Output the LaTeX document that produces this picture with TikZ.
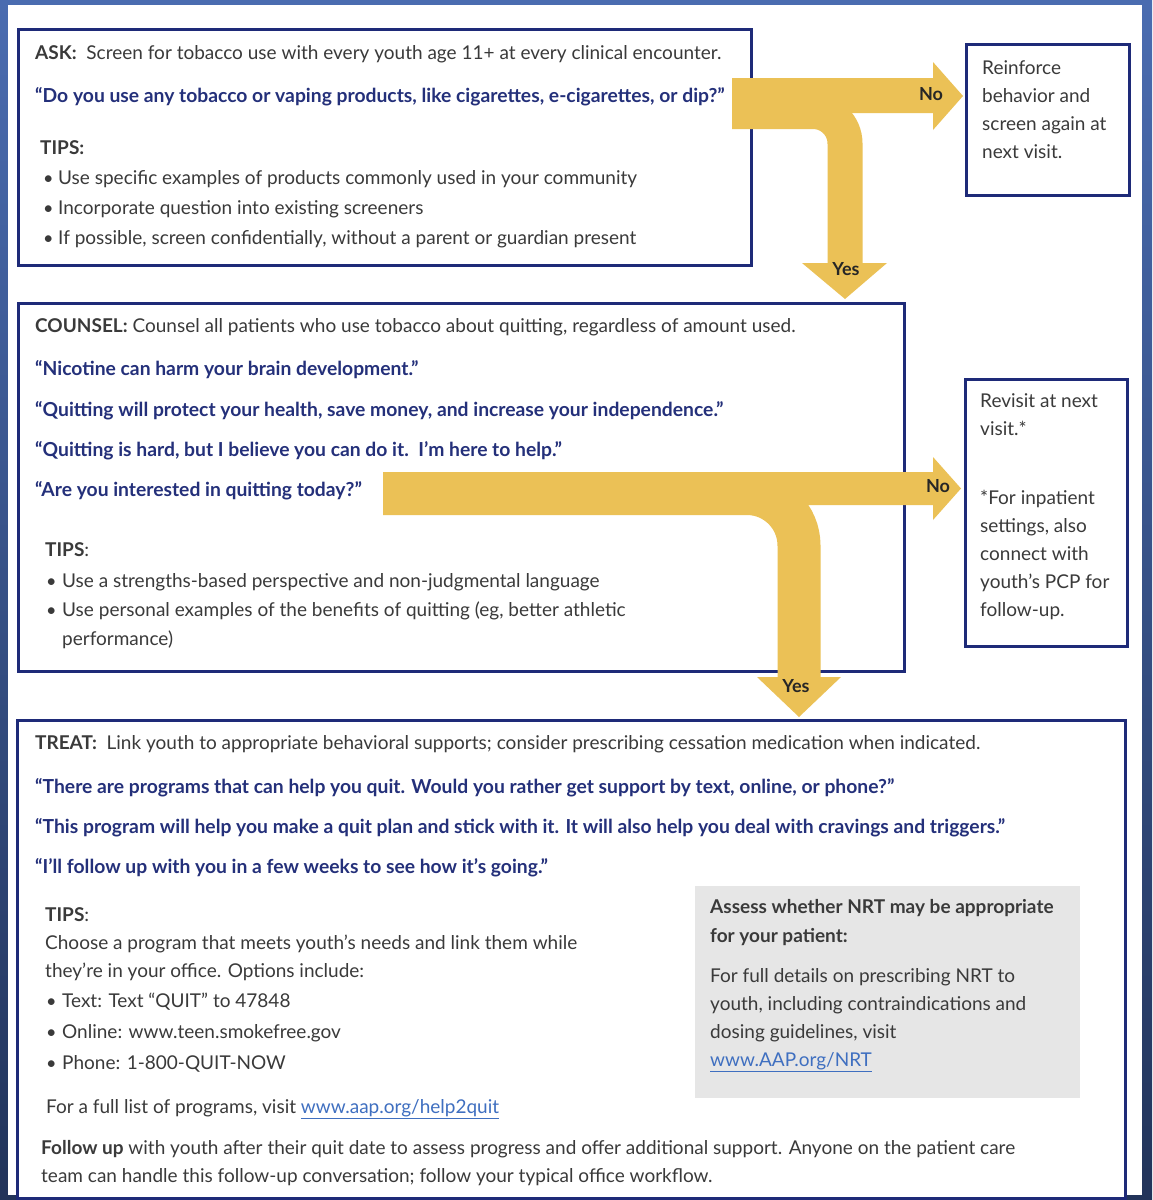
\documentclass[tikz,border=0pt]{standalone}
\usepackage{fontspec}
\setmainfont{Lato}
\definecolor{navy}{HTML}{1E2A78}
\definecolor{qblue}{HTML}{24307A}
\definecolor{txt}{HTML}{3A3A3A}
\definecolor{gold}{HTML}{EBC156}
\definecolor{linkc}{HTML}{3F6FC0}
\definecolor{graybg}{HTML}{E6E6E6}
\definecolor{frametop}{HTML}{4A6CB0}
\definecolor{framebot}{HTML}{22345A}
\tikzset{
  box/.style={draw=navy, line width=3pt, fill=white, anchor=north west, inner sep=0pt},
  t/.style={anchor=base west, inner sep=0pt, text=txt, font=\fontsize{19}{22}\selectfont},
  q/.style={anchor=base west, inner sep=0pt, text=qblue, font=\fontsize{19.3}{22}\selectfont\bfseries},
  lbl/.style={anchor=center, inner sep=0pt, text=black!85, font=\fontsize{18}{20}\selectfont\bfseries},
  bul/.style={anchor=base west, inner sep=0pt, text=txt, font=\fontsize{18}{20}\selectfont},
  goldband/.style={draw=gold, line cap=butt},
}
\newcommand{\lnk}[1]{\textcolor{linkc}{\underline{#1}}}
\begin{document}
\begin{tikzpicture}[x=1pt,y=-1pt]
\useasboundingbox (0,0) rectangle (1152,1200);
% outer frame
\shade[top color=frametop, bottom color=framebot] (0,0) rectangle (1152,1200);
\fill[white] (8,5) rectangle (1142,1195);
% boxes
\node[box, minimum width=733pt, minimum height=236pt] (ask) at (17,28) {};
\node[box, minimum width=163pt, minimum height=151pt] (reinf) at (965,43) {};
\node[box, minimum width=886pt, minimum height=368pt] (counsel) at (17,302) {};
\node[box, minimum width=162pt, minimum height=267pt] (revisit) at (964,378) {};
\node[box, minimum width=1108pt, minimum height=478pt] (treat) at (16,719) {};
\node[fill=graybg, anchor=north west, inner sep=0pt, minimum width=385pt, minimum height=212pt] (nrt) at (695,886) {};
% ASK text
\node[t] (askh) at (35,59) {\textbf{ASK:}\ \ Screen for tobacco use with every youth age 11+ at every clinical encounter.};
\node[q] (askq) at (35,102) {“Do you use any tobacco or vaping products, like cigarettes, e-cigarettes, or dip?”};
\node[t] (askt) at (40,154) {\textbf{TIPS:}};
\node[bul] (ab1) at (43,184) {•};
\node[t] (ak1) at (58,184) {Use specific examples of products commonly used in your community};
\node[bul] (ab2) at (43,214) {•};
\node[t] (ak2) at (58,214) {Incorporate question into existing screeners};
\node[bul] (ab3) at (43,244) {•};
\node[t] (ak3) at (58,244) {If possible, screen confidentially, without a parent or guardian present};
% Reinforce text
\node[t] (r1) at (982,74) {Reinforce};
\node[t] (r2) at (982,102) {behavior and};
\node[t] (r3) at (982,130) {screen again at};
\node[t] (r4) at (982,158) {next visit.};
% COUNSEL text
\node[t] (ch) at (35,332) {\textbf{COUNSEL:} Counsel all patients who use tobacco about quitting, regardless of amount used.};
\node[q] (cq1) at (35,375) {“Nicotine can harm your brain development.”};
\node[q] (cq2) at (35,416) {“Quitting will protect your health, save money, and increase your independence.”};
\node[q] (cq3) at (35,456) {“Quitting is hard, but I believe you can do it.\ \ I’m here to help.”};
\node[q] (cq4) at (35,496) {“Are you interested in quitting today?”};
\node[t] (ct) at (45,556) {\textbf{TIPS}:};
\node[bul] (cb1) at (46,587) {•};
\node[t] (ck1) at (62,587) {Use a strengths-based perspective and non-judgmental language};
\node[bul] (cb2) at (46,616) {•};
\node[t] (ck2) at (62,616) {Use personal examples of the benefits of quitting (eg, better athletic};
\node[t] (ck3) at (62,645) {performance)};
% Revisit text
\node[t] (v1) at (980,407) {Revisit at next};
\node[t] (v2) at (980,435) {visit.*};
\node[t] (v3) at (980,504) {*For inpatient};
\node[t] (v4) at (980,532) {settings, also};
\node[t] (v5) at (980,560) {connect with};
\node[t] (v6) at (980,588) {youth’s PCP for};
\node[t] (v7) at (980,616) {follow-up.};
% TREAT text
\node[t] (th) at (35,749) {\textbf{TREAT:}\ \ Link youth to appropriate behavioral supports; consider prescribing cessation medication when indicated.};
\node[q] (tq1) at (35,793) {“There are programs that can help you quit. Would you rather get support by text, online, or phone?”};
\node[q] (tq2) at (35,833) {“This program will help you make a quit plan and stick with it. It will also help you deal with cravings and triggers.”};
\node[q] (tq3) at (35,873) {“I’ll follow up with you in a few weeks to see how it’s going.”};
\node[t] (tt) at (45,921) {\textbf{TIPS}:};
\node[t] (tc1) at (45,949) {Choose a program that meets youth’s needs and link them while};
\node[t] (tc2) at (45,977) {they’re in your office. Options include:};
\node[bul] (tb1) at (46,1007) {•};
\node[t] (tk1) at (62,1007) {Text: Text “QUIT” to 47848};
\node[bul] (tb2) at (46,1038) {•};
\node[t] (tk2) at (62,1038) {Online: www.teen.smokefree.gov};
\node[bul] (tb3) at (46,1069) {•};
\node[t] (tk3) at (62,1069) {Phone: 1-800-QUIT-NOW};
\node[t] (tfl) at (46,1113) {For a full list of programs, visit \lnk{www.aap.org/help2quit}};
\node[t] (tf1) at (41,1154) {\textbf{Follow up} with youth after their quit date to assess progress and offer additional support. Anyone on the patient care};
\node[t] (tf2) at (41,1182) {team can handle this follow-up conversation; follow your typical office workflow.};
% NRT text
\node[t] (n1) at (710,913) {\textbf{Assess whether NRT may be appropriate}};
\node[t] (n2) at (710,942) {\textbf{for your patient:}};
\node[t] (n3) at (710,982) {For full details on prescribing NRT to};
\node[t] (n4) at (710,1010) {youth, including contraindications and};
\node[t] (n5) at (710,1038) {dosing guidelines, visit};
\node[t] (n6) at (710,1066) {\lnk{www.AAP.org/NRT}};
% arrows 1
\coordinate (a1s) at (732,95.5);
\coordinate (a1c) at (732,111.5);
\coordinate (a1tip) at (963,96);
\coordinate (y1tip) at (845,299);
\fill[gold] (a1s) ++(0,-17.5) -- (933,78) -- (933,62) -- (a1tip) -- (933,130) -- (933,113) -- (732,113) -- cycle;
\draw[goldband, line width=35pt, rounded corners=32pt] (a1c) -- (845,111.5) -- (845,264);
\fill[gold] (802,263) -- (887,263) -- (y1tip) -- cycle;
\node[lbl] (no1) at (931,94) {No};
\node[lbl] (yes1) at (846,269) {Yes};
% arrows 2
\coordinate (a2s) at (383,488.5);
\coordinate (a2c) at (383,493.5);
\coordinate (a2tip) at (961,488.5);
\coordinate (y2tip) at (799,717);
\fill[gold] (383,472) -- (933,472) -- (933,457) -- (a2tip) -- (933,520) -- (933,505) -- (383,505) -- cycle;
\draw[goldband, line width=43pt, rounded corners=52pt] (a2c) -- (799,493.5) -- (799,678);
\fill[gold] (757,677) -- (841,677) -- (y2tip) -- cycle;
\node[lbl] (no2) at (938,486) {No};
\node[lbl] (yes2) at (796,686) {Yes};
\end{tikzpicture}
\end{document}
